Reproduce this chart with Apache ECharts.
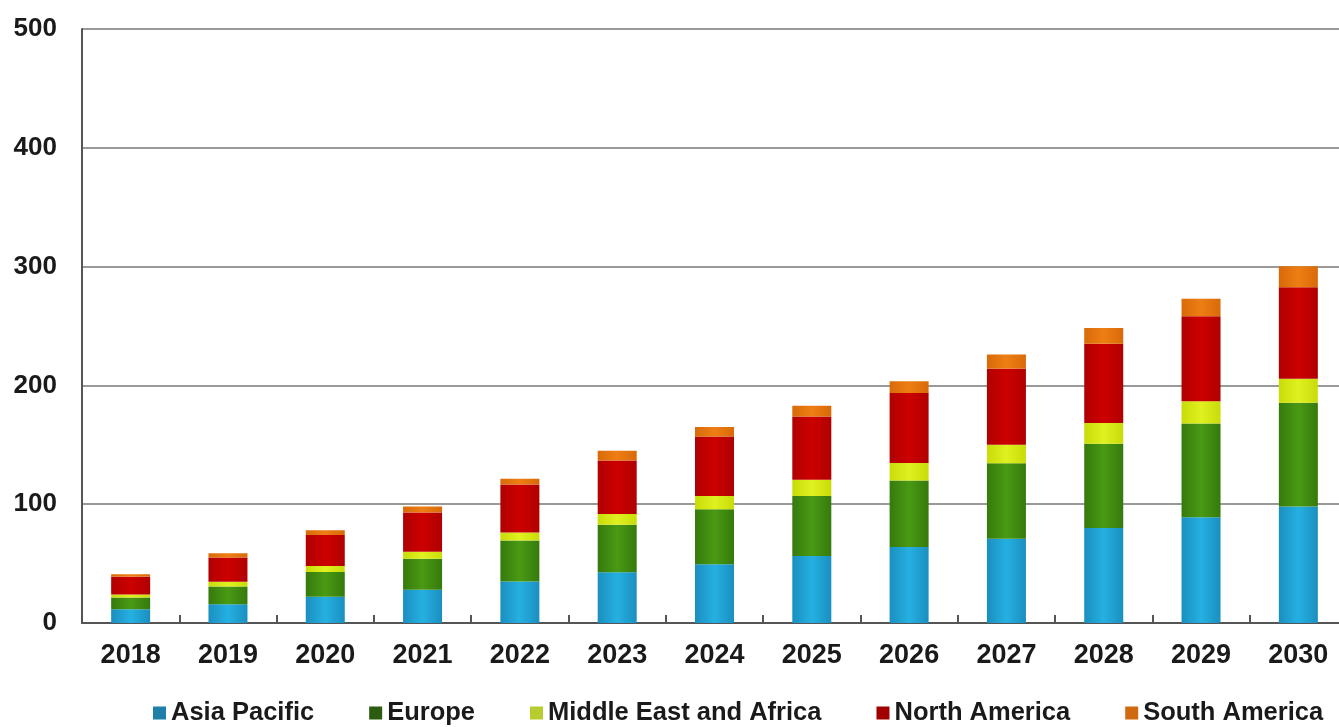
<!DOCTYPE html>
<html>
<head>
<meta charset="utf-8">
<script src="https://cdn.jsdelivr.net/npm/echarts@6/dist/echarts.min.js"></script>
<style>
html,body{margin:0;padding:0;background:#fff;overflow:hidden;width:1339px;height:727px;}
#chart{width:1347px;height:727px;}
</style>
</head>
<body>
<div id="chart"></div>
<script>
const years = ['2018','2019','2020','2021','2022','2023','2024','2025','2026','2027','2028','2029','2030'];
const yTicks = [0, 100, 200, 300, 400, 500];
const asiaPacific = [11.5, 15.7, 22, 28, 35, 42.7, 49.5, 56.4, 64, 71, 80, 89, 98];
const europe = [10, 15, 21, 26, 34.5, 40, 46.3, 50.6, 56, 63.5, 70.8, 79, 87.5];
const middleEastAfrica = [2.5, 4, 5, 6, 6.7, 9, 11.2, 13.5, 14.7, 15.5, 17.5, 18.7, 20.2];
const northAmerica = [15, 20.5, 26, 33, 40.3, 45, 50, 53.3, 58.8, 64, 66.7, 71.6, 77];
const southAmerica = [2, 3.5, 4, 5, 5, 8.3, 8, 9, 10, 12, 13.4, 14.6, 17.6];

const seriesDefs = [
  {name:'Asia Pacific', data: asiaPacific, edge:'#1a8fbf', mid:'#25b0e2', legend:'#1f7fa8'},
  {name:'Europe', data: europe, edge:'#357a0c', mid:'#4a9a14', legend:'#2b5c10'},
  {name:'Middle East and Africa', data: middleEastAfrica, edge:'#c8dc08', mid:'#e0f020', legend:'#b8cc30'},
  {name:'North America', data: northAmerica, edge:'#b00000', mid:'#cc0000', legend:'#a00000'},
  {name:'South America', data: southAmerica, edge:'#d86a08', mid:'#ee7e14', legend:'#d06a10'}
];

const chart = echarts.init(document.getElementById('chart'), null, {renderer:'canvas'});
const font = 'Liberation Sans, Arial, sans-serif';
chart.setOption({
  animation:false,
  backgroundColor:'#fff',
  grid:{left:82, right:0, top:29, bottom:104, containLabel:false},
  legend:{
    left:148, top:695, itemGap:55, itemWidth:13, itemHeight:13, icon:'rect',
    textStyle:{fontFamily:font, fontSize:25.5, fontWeight:'bold', color:'#1a1a1a'},
    data: seriesDefs.map(s=>({name:s.name, itemStyle:{color:s.legend}}))
  },
  xAxis:{
    type:'category', data:years, boundaryGap:true,
    axisLine:{lineStyle:{color:'#555', width:2}},
    axisTick:{show:true, inside:true, length:8, lineStyle:{color:'#555', width:2}},
    axisLabel:{fontFamily:font, fontSize:27, fontWeight:'bold', color:'#1a1a1a', margin:19, interval:0}
  },
  yAxis:{
    type:'value', min:0, max:500, interval:100,
    axisLine:{show:true, lineStyle:{color:'#555', width:2}},
    axisTick:{show:false},
    splitLine:{lineStyle:{color:'#999', width:2}},
    axisLabel:{fontFamily:font, fontSize:26, fontWeight:'bold', color:'#1a1a1a', margin:25,
      formatter:v=> yTicks.includes(v) ? String(v) : ''}
  },
  series: seriesDefs.map(s=>({
    name:s.name, type:'bar', stack:'total', barWidth:39, data:s.data,
    itemStyle:{color:{type:'linear', x:0, y:0, x2:1, y2:0, colorStops:[
      {offset:0, color:s.edge},{offset:0.5, color:s.mid},{offset:1, color:s.edge}]}}
  }))
});
</script>
</body>
</html>
